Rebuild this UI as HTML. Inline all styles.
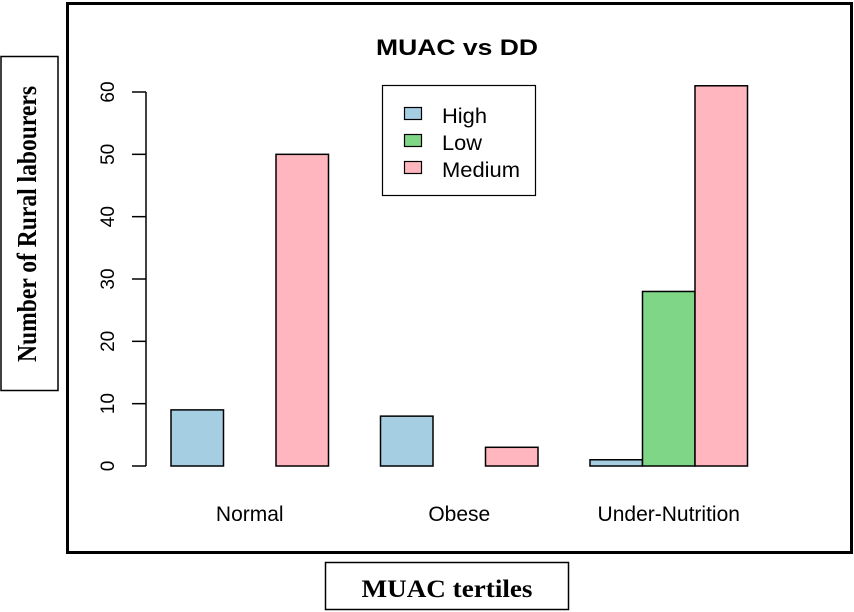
<!DOCTYPE html>
<html><head><meta charset="utf-8"><style>
html,body{margin:0;padding:0;background:#fff;}
svg{display:block;font-family:"Liberation Sans",sans-serif;}
</style></head><body>
<svg id="chart" width="854" height="612" xmlns="http://www.w3.org/2000/svg">
<rect x="67.5" y="3.5" width="784" height="549" fill="none" stroke="#000" stroke-width="3"/>
<text x="457" y="55" text-anchor="middle" font-size="22" font-weight="bold" textLength="162" lengthAdjust="spacingAndGlyphs">MUAC vs DD</text>
<rect x="1" y="56.5" width="57" height="334" fill="#fff" stroke="#000" stroke-width="1.5"/>
<text transform="translate(36,224) rotate(-90)" text-anchor="middle" font-family="Liberation Serif,serif" font-weight="bold" font-size="27" textLength="276" lengthAdjust="spacingAndGlyphs">Number of Rural labourers</text>
<rect x="325.5" y="562.5" width="243" height="47" fill="#fff" stroke="#000" stroke-width="1.5"/>
<text x="447" y="597" text-anchor="middle" font-family="Liberation Serif,serif" font-weight="bold" font-size="25" textLength="171" lengthAdjust="spacingAndGlyphs">MUAC tertiles</text>
<g id="axis"></g>
<g id="bars"></g>
<g id="xlabels"></g>
<g>
<rect x="382.5" y="85.5" width="153" height="110" fill="#fff" stroke="#000" stroke-width="1.2"/>
<rect x="404.5" y="107.5" width="17" height="12" fill="#A6CEE3" stroke="#000" stroke-width="1.2"/>
<text x="442" y="123" font-size="21" textLength="45" lengthAdjust="spacingAndGlyphs">High</text>
<rect x="404.5" y="134.5" width="17" height="12" fill="#7FD686" stroke="#000" stroke-width="1.2"/>
<text x="442" y="150" font-size="21" textLength="40" lengthAdjust="spacingAndGlyphs">Low</text>
<rect x="404.5" y="161.5" width="17" height="12" fill="#FFB6BE" stroke="#000" stroke-width="1.2"/>
<text x="442" y="177" font-size="21" textLength="78" lengthAdjust="spacingAndGlyphs">Medium</text>
</g>
</svg>
<script>
const categories = ["Normal","Obese","Under-Nutrition"];
const seriesNames = ["High","Low","Medium"];
const highValues = [9,8,1];
const lowValues = [0,0,28];
const mediumValues = [50,3,61];
const yTicks = [0,10,20,30,40,50,60];

const NS="http://www.w3.org/2000/svg";
const colors=["#A6CEE3","#7FD686","#FFB6BE"];
const series=[highValues,lowValues,mediumValues];
const y0=466, pxPerUnit=(466-92)/60;
function yScale(v){return y0 - v*pxPerUnit;}
const barW=52.5, groupStart=171, groupStep=209.5;
function xScale(g,s){return groupStart + g*groupStep + s*barW;}

const axis=document.getElementById('axis');
let l=document.createElementNS(NS,'line');
l.setAttribute('x1',146);l.setAttribute('x2',146);l.setAttribute('y1',yScale(0));l.setAttribute('y2',yScale(60));
l.setAttribute('stroke','#000');l.setAttribute('stroke-width','1.5');


axis.appendChild(l);
yTicks.forEach(t=>{
  const tk=document.createElementNS(NS,'line');
  tk.setAttribute('x1',132);tk.setAttribute('x2',146);tk.setAttribute('y1',yScale(t));tk.setAttribute('y2',yScale(t));
  tk.setAttribute('stroke','#000');tk.setAttribute('stroke-width','1.5');
  
  
  axis.appendChild(tk);
  const tx=document.createElementNS(NS,'text');
  tx.setAttribute('transform','translate(114,'+yScale(t)+') rotate(-90)');
  tx.setAttribute('text-anchor','middle');tx.setAttribute('font-size','19');
  tx.textContent=t;
  
  
  axis.appendChild(tx);
});
const bars=document.getElementById('bars');
categories.forEach((c,g)=>{
  series.forEach((vals,s)=>{
    const r=document.createElementNS(NS,'rect');
    const v=vals[g];
    r.setAttribute('x',xScale(g,s));r.setAttribute('width',barW);
    r.setAttribute('y',yScale(v));r.setAttribute('height',Math.max(0,y0-yScale(v)));
    r.setAttribute('fill',colors[s]);r.setAttribute('stroke','#000');r.setAttribute('stroke-width','1.5');
    
    
    bars.appendChild(r);
  });
  const tx=document.createElementNS(NS,'text');
  tx.setAttribute('x',xScale(g,1.5));tx.setAttribute('y',521);
  tx.setAttribute('text-anchor','middle');tx.setAttribute('font-size','21');
  tx.textContent=c;
  
  
  document.getElementById('xlabels').appendChild(tx);
});
</script>
</body></html>
